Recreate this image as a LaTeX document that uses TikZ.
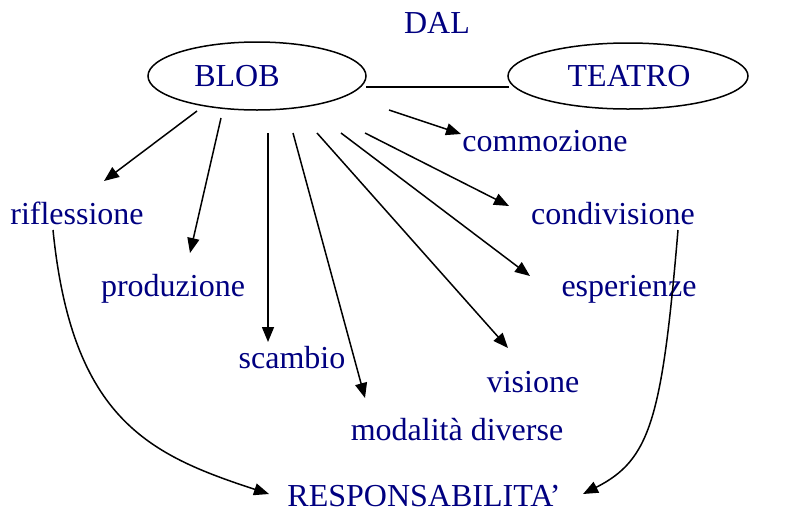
\documentclass[tikz,border=0pt]{standalone}
\usepackage{fontspec}
\setmainfont{Liberation Serif}
\usetikzlibrary{arrows.meta,shapes.geometric}
\definecolor{navy}{RGB}{0,0,128}
\tikzset{
  lbl/.style={text=navy,font=\fontsize{32}{38}\selectfont,inner sep=0pt,anchor=base},
  oval/.style={draw,ellipse,line width=1.5pt,inner sep=0pt},
  conn/.style={line width=1.5pt},
  arr/.style={line width=1.5pt,-{Triangle[length=15pt,width=12pt]}}
}
\begin{document}
\begin{tikzpicture}[x=1pt,y=-1pt]
\useasboundingbox (0,0) rectangle (789,512);
% ovals
\node[oval,minimum width=218pt,minimum height=68pt] (blobov) at (257,76) {};
\node[oval,minimum width=240pt,minimum height=66pt] (teatroov) at (628,76) {};
% labels
\node[lbl] (dal) at (437,33) {DAL};
\node[lbl] (blob) at (237,86) {BLOB};
\node[lbl] (teatro) at (629,86) {TEATRO};
\node[lbl] (commozione) at (545,151) {commozione};
\node[lbl] (riflessione) at (77,224) {riflessione};
\node[lbl] (condivisione) at (613,224) {condivisione};
\node[lbl] (produzione) at (173,296) {produzione};
\node[lbl] (esperienze) at (629,296) {esperienze};
\node[lbl] (scambio) at (292,368) {scambio};
\node[lbl] (visione) at (533,392) {visione};
\node[lbl] (modalita) at (457,440) {modalità diverse};
\node[lbl] (resp) at (424,506) {RESPONSABILITA’};
% connector between ovals
\coordinate (linkL) at (366,87);
\coordinate (linkR) at (509,87);
\draw[conn] (linkL) -- (linkR);
% arrow start points
\coordinate (s1) at (197,111);
\coordinate (s2) at (221,118);
\coordinate (s3) at (268,133);
\coordinate (s4) at (293,133);
\coordinate (s5) at (317,133);
\coordinate (s6) at (341,133);
\coordinate (s7) at (365,133);
\coordinate (s8) at (389,110);
% arrow end points
\coordinate (e1) at (104,181);
\coordinate (e2) at (190,253);
\coordinate (e3) at (268,342);
\coordinate (e4) at (365,398);
\coordinate (e5) at (508,348);
\coordinate (e6) at (530,276);
\coordinate (e7) at (509,206);
\coordinate (e8) at (461,134);
\draw[arr] (s1) -- (e1);
\draw[arr] (s2) -- (e2);
\draw[arr] (s3) -- (e3);
\draw[arr] (s4) -- (e4);
\draw[arr] (s5) -- (e5);
\draw[arr] (s6) -- (e6);
\draw[arr] (s7) -- (e7);
\draw[arr] (s8) -- (e8);
% curved arrows to RESPONSABILITA'
\coordinate (c1s) at (53,230);
\coordinate (c1e) at (269,494);
\coordinate (c2s) at (678,230);
\coordinate (c2e) at (583,494);
\draw[arr] (c1s) .. controls (72,420) and (150,455) .. (c1e);
\draw[arr] (c2s) .. controls (662,420) and (650,460) .. (c2e);
\end{tikzpicture}
\end{document}
